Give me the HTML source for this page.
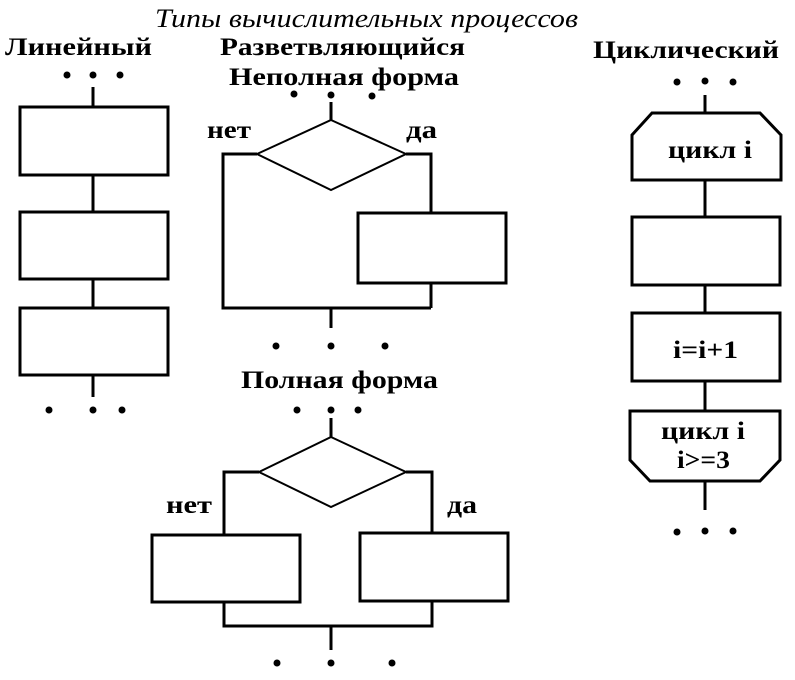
<!DOCTYPE html>
<html><head><meta charset="utf-8"><style>
body{margin:0;background:#fff;width:795px;height:680px;overflow:hidden}
svg{display:block}
text{font-family:"Liberation Serif",serif;fill:#000}
.b{font-weight:bold;font-size:25px}
</style></head><body>
<svg width="795" height="680" viewBox="0 0 795 680">
<g fill="none" stroke="#000" stroke-width="3">
<line x1="93" y1="87" x2="93" y2="107"/>
<rect x="20" y="107" width="148" height="68"/>
<line x1="93" y1="175" x2="93" y2="212"/>
<rect x="20" y="212" width="148" height="67"/>
<line x1="93" y1="279" x2="93" y2="308"/>
<rect x="20" y="308" width="148" height="67"/>
<line x1="93" y1="375" x2="93" y2="397"/>
<line x1="331" y1="102" x2="331" y2="120"/>
<polygon points="331,120 406,154 331,190 257,154" stroke-width="2"/>
<polyline points="257,154 223,154 223,308 431,308"/>
<polyline points="406,154 431,154 431,213"/>
<rect x="358" y="213" width="148" height="70"/>
<line x1="431" y1="283" x2="431" y2="308"/>
<line x1="331" y1="308" x2="331" y2="328"/>
<line x1="331" y1="418" x2="331" y2="437"/>
<polygon points="331,437 406,472 331,507 259,472" stroke-width="2"/>
<polyline points="259,472 224,472 224,535"/>
<rect x="152" y="535" width="148" height="67"/>
<polyline points="406,472 432,472 432,533"/>
<rect x="360" y="533" width="148" height="68"/>
<polyline points="224,602 224,626 432,626 432,601"/>
<line x1="331" y1="626" x2="331" y2="650"/>
<line x1="705" y1="95" x2="705" y2="113"/>
<polygon points="652,113 760,113 781,135 781,180 632,180 632,135"/>
<line x1="705" y1="180" x2="705" y2="217"/>
<rect x="632" y="217" width="148" height="68"/>
<line x1="705" y1="285" x2="705" y2="313"/>
<rect x="632" y="313" width="148" height="68"/>
<line x1="705" y1="381" x2="705" y2="411"/>
<polygon points="630,411 780,411 780,460 760,481 650,481 630,460"/>
<line x1="705" y1="481" x2="705" y2="510"/>
</g>
<g fill="#000">
<circle cx="67" cy="75" r="3.5"/><circle cx="93" cy="75" r="3.5"/><circle cx="120" cy="75" r="3.5"/>
<circle cx="49" cy="410" r="3.5"/><circle cx="93" cy="410" r="3.5"/><circle cx="122" cy="410" r="3.5"/>
<circle cx="294" cy="94" r="3.5"/><circle cx="331" cy="95" r="3.5"/><circle cx="372" cy="96" r="3.5"/>
<circle cx="276" cy="346" r="3.5"/><circle cx="331" cy="346" r="3.5"/><circle cx="385" cy="346" r="3.5"/>
<circle cx="297" cy="410" r="3.5"/><circle cx="331" cy="410" r="3.5"/><circle cx="358" cy="410" r="3.5"/>
<circle cx="277" cy="663" r="3.5"/><circle cx="331" cy="663" r="3.5"/><circle cx="392" cy="663" r="3.5"/>
<circle cx="677" cy="82" r="3.5"/><circle cx="705" cy="81" r="3.5"/><circle cx="733" cy="82" r="3.5"/>
<circle cx="677" cy="532" r="3.5"/><circle cx="705" cy="531" r="3.5"/><circle cx="733" cy="531" r="3.5"/>
</g>
<text x="155" y="27" font-size="26" font-style="italic" textLength="423" lengthAdjust="spacingAndGlyphs">Типы вычислительных процессов</text>
<text class="b" x="5" y="55" textLength="147" lengthAdjust="spacingAndGlyphs">Линейный</text>
<text class="b" x="220" y="55" textLength="245" lengthAdjust="spacingAndGlyphs">Разветвляющийся</text>
<text class="b" x="229" y="85" textLength="230" lengthAdjust="spacingAndGlyphs">Неполная форма</text>
<text class="b" x="593" y="58" textLength="186" lengthAdjust="spacingAndGlyphs">Циклический</text>
<text class="b" x="207" y="138" textLength="44" lengthAdjust="spacingAndGlyphs">нет</text>
<text class="b" x="406" y="138" textLength="31" lengthAdjust="spacingAndGlyphs">да</text>
<text class="b" x="241" y="388" textLength="197" lengthAdjust="spacingAndGlyphs">Полная форма</text>
<text class="b" x="166" y="513" textLength="46" lengthAdjust="spacingAndGlyphs">нет</text>
<text class="b" x="447" y="513" textLength="30" lengthAdjust="spacingAndGlyphs">да</text>
<text class="b" x="668" y="158" textLength="84" lengthAdjust="spacingAndGlyphs">цикл i</text>
<text class="b" x="673" y="358" textLength="65" lengthAdjust="spacingAndGlyphs">i=i+1</text>
<text class="b" x="661" y="439" textLength="84" lengthAdjust="spacingAndGlyphs">цикл i</text>
<text class="b" x="677" y="468" textLength="53" lengthAdjust="spacingAndGlyphs">i&gt;=3</text>
</svg>
</body></html>
